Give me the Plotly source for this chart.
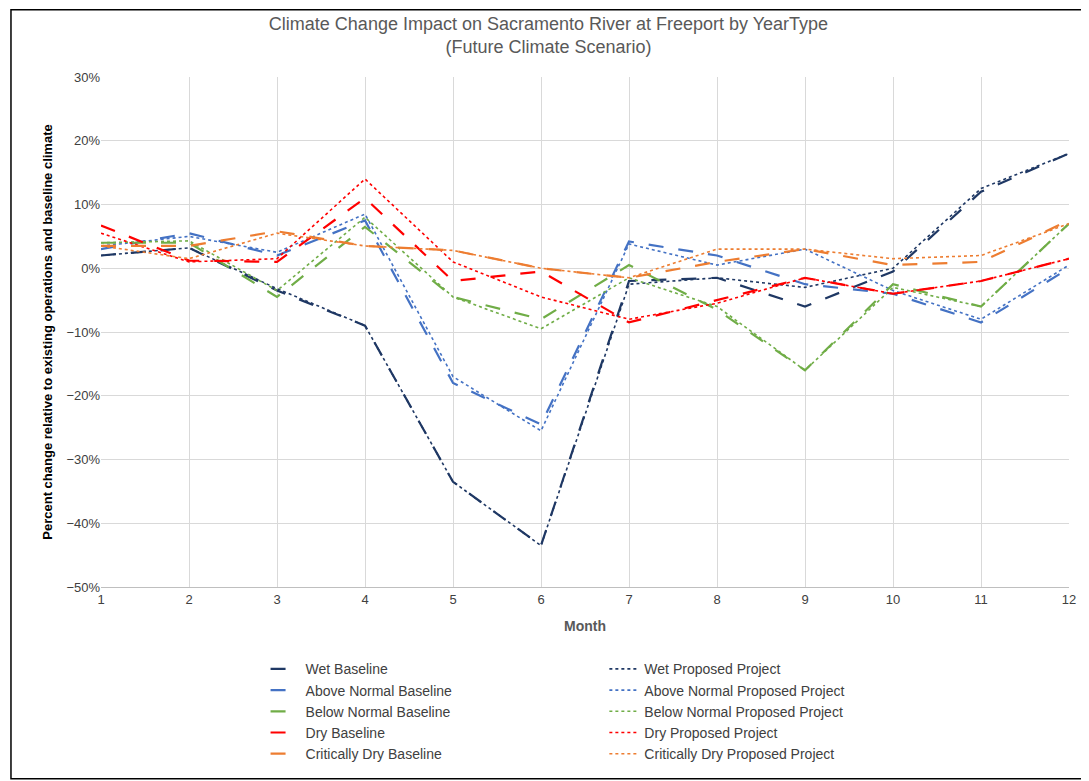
import plotly.graph_objects as go

months = list(range(1, 13))

wet_base = [2.0, 3.2, -3.5, -9.0, -33.5, -43.5, -2.0, -1.5, -6.0, -0.5, 12.0, 18.0]
wet_prop = [2.0, 3.2, -3.2, -9.0, -33.5, -43.5, -2.5, -1.5, -3.0, 0.0, 12.5, 18.0]
an_base = [3.0, 5.5, 2.0, 7.5, -18.0, -24.5, 4.2, 2.0, -2.5, -4.0, -8.5, 0.0]
an_prop = [3.5, 5.0, 2.5, 8.5, -17.0, -25.5, 3.8, 0.5, 3.0, -3.5, -8.0, 0.5]
bn_base = [4.0, 4.0, -4.5, 6.5, -4.5, -8.0, 0.5, -6.5, -16.0, -2.5, -6.0, 7.0]
bn_prop = [4.0, 4.3, -3.5, 8.0, -4.5, -9.5, -1.5, -6.0, -16.0, -3.0, -6.0, 7.0]
dry_base = [6.7, 1.2, 1.0, 11.0, -2.0, -0.5, -8.5, -5.0, -1.5, -4.0, -2.0, 1.5]
dry_prop = [5.5, 1.0, 1.5, 14.0, 1.0, -4.5, -8.0, -5.5, -1.5, -4.0, -2.0, 1.5]
cd_base = [3.5, 3.5, 5.8, 3.5, 2.8, 0.0, -1.5, 1.0, 3.0, 0.5, 1.0, 7.5]
cd_prop = [3.5, 1.5, 5.5, 3.5, 2.8, 0.0, -1.5, 3.0, 3.0, 1.5, 2.0, 7.0]

series = [
    ("Wet", "#1f3864", wet_base, wet_prop),
    ("Above Normal", "#4472c4", an_base, an_prop),
    ("Below Normal", "#70ad47", bn_base, bn_prop),
    ("Dry", "#ff0000", dry_base, dry_prop),
    ("Critically Dry", "#ed7d31", cd_base, cd_prop),
]

fig = go.Figure()
for name, color, base, prop in series:
    fig.add_trace(go.Scatter(x=months, y=[v / 100 for v in base], mode="lines",
                             name=f"{name} Baseline",
                             line=dict(color=color, width=2.2, dash="longdash")))
    fig.add_trace(go.Scatter(x=months, y=[v / 100 for v in prop], mode="lines",
                             name=f"{name} Proposed Project",
                             line=dict(color=color, width=1.6, dash="dot")))

font = "'Liberation Sans', Arial, sans-serif"
fig.update_layout(
    width=1081, height=773,
    paper_bgcolor="white", plot_bgcolor="white",
    margin=dict(l=93, r=20, t=69, b=194),
    font=dict(family=font, size=13, color="#404040"),
    title=dict(text="Climate Change Impact on Sacramento River at Freeport by YearType<br>(Future Climate Scenario)",
               x=0.5, xanchor="center", y=0.972, yanchor="top",
               font=dict(size=18, color="#595959")),
    xaxis=dict(range=[1, 12], dtick=1, showgrid=True, gridcolor="#d9d9d9",
               showline=True, linecolor="#bfbfbf", zeroline=False, automargin=False,
               title=dict(text="<b>Month</b>", font=dict(size=14, color="#595959"))),
    yaxis=dict(range=[-0.5, 0.3], dtick=0.1, tickformat=".0%", showgrid=True,
               gridcolor="#d9d9d9", zeroline=False, automargin=False,
               title=dict(text="<b>Percent change relative to existing operations and baseline climate</b>",
                          font=dict(size=13, color="#000000"), standoff=10)),
    legend=dict(orientation="h", x=0.17, xanchor="left", y=-0.13, yanchor="top",
                entrywidth=0.35, entrywidthmode="fraction",
                font=dict(size=14, color="#404040"), tracegroupgap=0),
    shapes=[dict(type="rect", xref="paper", yref="paper", x0=-0.093, x1=1.018,
                 y0=-0.376, y1=1.132, line=dict(color="#000000", width=1.5))],
)

fig.write_html("out.html")
